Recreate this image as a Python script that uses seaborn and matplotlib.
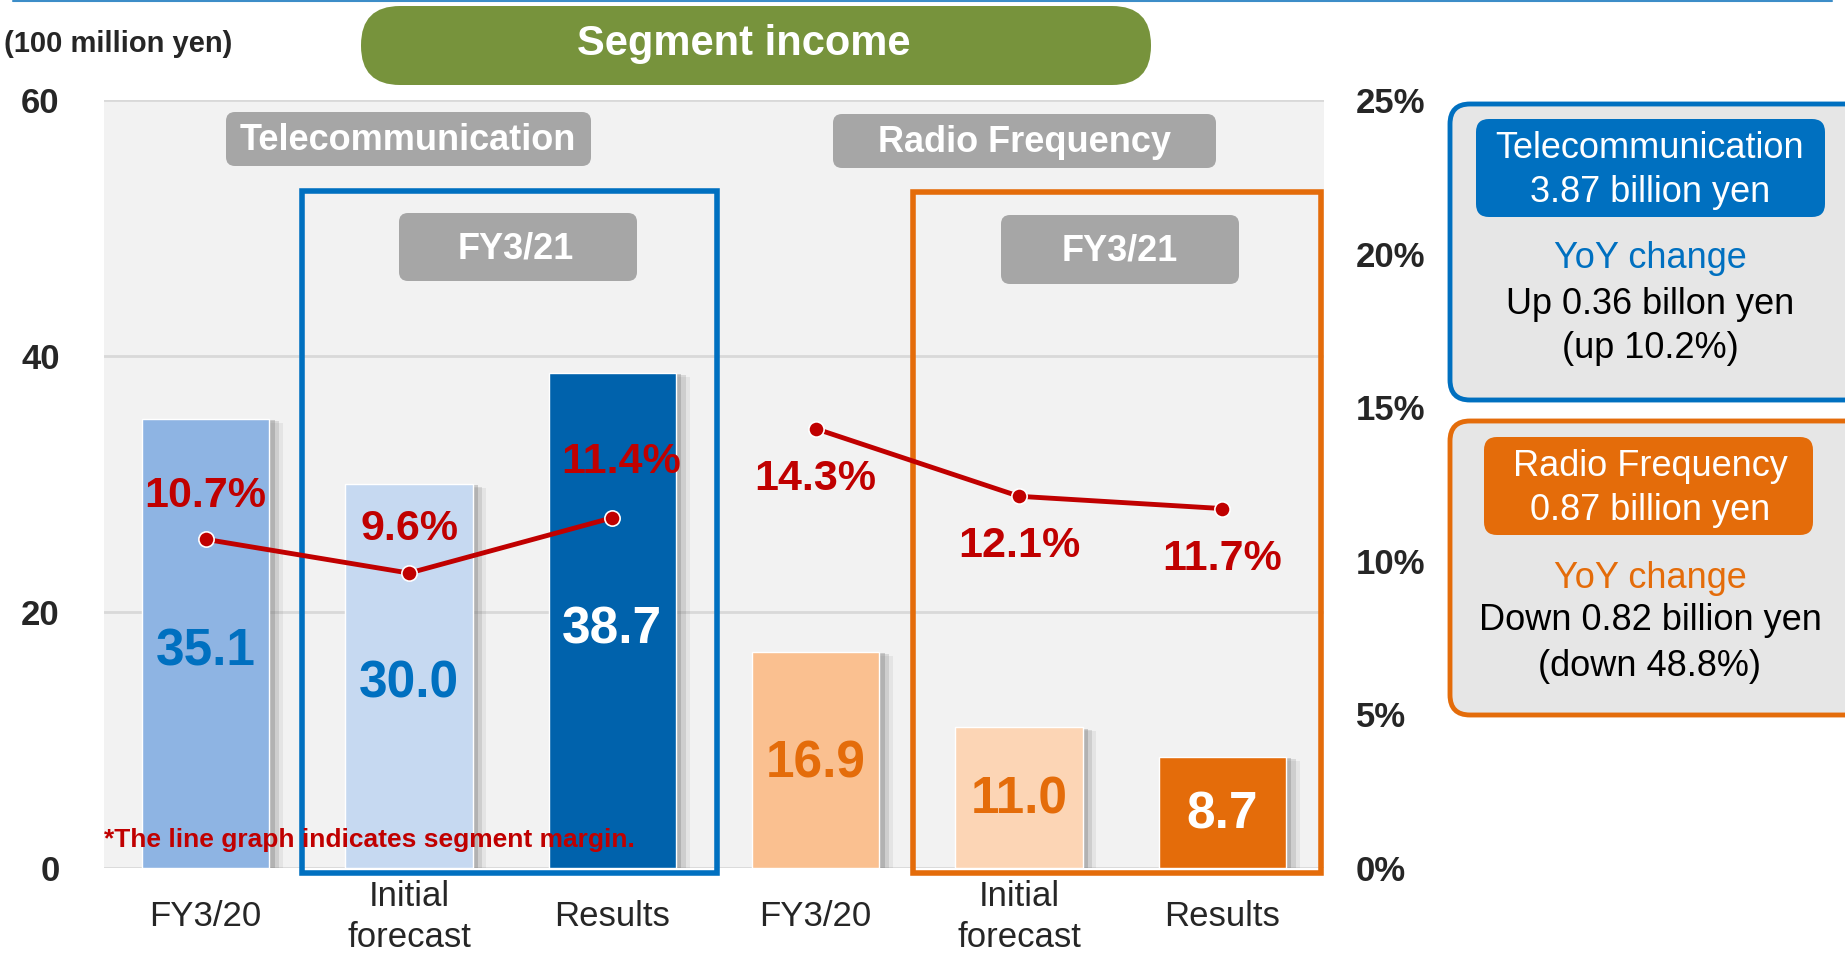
import matplotlib
matplotlib.use("Agg")
import matplotlib.pyplot as plt
import matplotlib.patheffects as pe
import matplotlib.transforms as mtransforms
from matplotlib.patches import FancyBboxPatch, Rectangle
from matplotlib.lines import Line2D
import seaborn as sns

# DATA
bar_keys = ["tel_prev", "tel_fc", "tel_res", "rf_prev", "rf_fc", "rf_res"]
tick_labels = ["FY3/20", "Initial\nforecast", "Results", "FY3/20", "Initial\nforecast", "Results"]
income = [35.1, 30.0, 38.7, 16.9, 11.0, 8.7]          # 100 million yen
margin_tel = [10.7, 9.6, 11.4]                        # %
margin_rf = [14.3, 12.1, 11.7]                        # %
left_ticks = [0, 20, 40, 60]
right_ticks = [0, 5, 10, 15, 20, 25]

bar_colors = ["#8EB4E3", "#C6D9F1", "#0062AC", "#FAC090", "#FCD5B5", "#E46C0A"]
value_colors = ["#0070C0", "#0070C0", "white", "#E46C0A", "#E46C0A", "white"]
BLUE = "#0070C0"
ORANGE = "#E46C0A"
RED = "#C00000"

sns.set_style("white")
plt.rcParams["font.family"] = ["Liberation Sans", "DejaVu Sans"]
NARROW = ["Liberation Sans Narrow", "Liberation Sans", "DejaVu Sans"]

W, H = 1845, 960
fig = plt.figure(figsize=(W / 100, H / 100), dpi=100)
# pixel coords measured from top-left corner
px = mtransforms.Affine2D().scale(1 / W, -1 / H).translate(0, 1) + fig.transFigure

ax = fig.add_axes([104 / W, 92 / H, 1220 / W, 768 / H])
sns.barplot(x=bar_keys, y=income, hue=bar_keys, palette=bar_colors, legend=False,
            width=0.625, saturation=1, dodge=False, ax=ax)
# soft shadow on the right of each bar
for p in ax.patches:
    p.set_path_effects([pe.SimplePatchShadow(offset=(10, -3), shadow_rgbFace="#808080", alpha=0.12),
                        pe.SimplePatchShadow(offset=(7, -2), shadow_rgbFace="#808080", alpha=0.22),
                        pe.SimplePatchShadow(offset=(4, -1), shadow_rgbFace="#808080", alpha=0.35),
                        pe.Normal()])

ax.set_facecolor("#F2F2F2")
ax.set_xlim(-0.5, 5.5)
ax.set_ylim(0, 60)
ax.set_yticks(left_ticks)
ax.set_yticklabels([str(t) for t in left_ticks], fontsize=25, fontweight="bold")
ax.grid(axis="y", color="#D9D9D9", lw=2)
ax.grid(axis="x", visible=False)
ax.set_axisbelow(True)
ax.set_xticks(range(len(tick_labels)))
ax.set_xticklabels(tick_labels, fontsize=25, va="center", linespacing=1.3)
ax.tick_params(axis="x", length=0, pad=35)
ax.tick_params(axis="y", length=0, pad=32)
ax.set(xlabel=None, ylabel=None)
for s in ax.spines.values():
    s.set_visible(False)

# value labels inside bars
for i, v in enumerate(income):
    ax.text(i, v * 0.48, f"{v:.1f}", ha="center", va="center", color=value_colors[i],
            fontsize=37, fontweight="bold", family=NARROW, zorder=6)

# group frames
ax.add_patch(Rectangle((0.474, -0.4), 2.04, 53.3, fill=False, ec=BLUE, lw=4,
                       clip_on=False, zorder=4))
ax.add_patch(Rectangle((3.48, -0.4), 2.006, 53.2, fill=False, ec=ORANGE, lw=4,
                       clip_on=False, zorder=4))

# margin line on right axis
ax2 = ax.twinx()
ax2.set_ylim(0, 25)
sns.lineplot(x=[0, 1, 2], y=margin_tel, ax=ax2, color=RED, lw=3.5, marker="o",
             markersize=11, markeredgecolor="white", markeredgewidth=1.2)
sns.lineplot(x=[3, 4, 5], y=margin_rf, ax=ax2, color=RED, lw=3.5, marker="o",
             markersize=11, markeredgecolor="white", markeredgewidth=1.2)
ax2.set_xlim(-0.5, 5.5)
ax2.set_yticks(right_ticks)
ax2.set_yticklabels([f"{t}%" for t in right_ticks], fontsize=25, fontweight="bold")
ax2.tick_params(axis="y", length=0, pad=23)
ax2.set(xlabel=None, ylabel=None)
ax2.grid(False)
for s in ax2.spines.values():
    s.set_visible(False)

tel_offsets = [(0, 31), (0, 32), (6, 40)]
for i, m in enumerate(margin_tel):
    ax2.annotate(f"{m}%", (i, m), xytext=tel_offsets[i], textcoords="offset points",
                 ha="center", va="center", color=RED, fontsize=31, fontweight="bold",
                 family=NARROW, zorder=7)
for i, m in enumerate(margin_rf):
    ax2.annotate(f"{m}%", (i + 3, m), xytext=(0, -36), textcoords="offset points",
                 ha="center", va="center", color=RED, fontsize=31, fontweight="bold",
                 family=NARROW, zorder=7)


def rbox(x0, y0, x1, y1, r, fc, ec="none", lw=0, z=2):
    fig.add_artist(FancyBboxPatch((x0, y0), x1 - x0, y1 - y0,
                                  boxstyle=f"round,pad=0,rounding_size={r}",
                                  fc=fc, ec=ec, lw=lw, transform=px, zorder=z))


def ptext(x, y, s, **kw):
    fig.text(x, y, s, transform=px, ha=kw.pop("ha", "center"), va="center", zorder=5, **kw)


# top rule
fig.add_artist(Line2D([13, 1832], [1, 1], color="#3C8DC8", lw=1.5, transform=px))

# title
rbox(361, 6, 1151, 85, 39, "#77933C")
ptext(744, 44, "Segment income", color="white", fontsize=30, fontweight="bold")
ptext(4, 44, "(100 million yen)", ha="left", fontsize=21, fontweight="bold", family=NARROW)

# segment headers
rbox(226, 112, 591, 166, 9, "#A6A6A6")
ptext(408, 141, "Telecommunication", color="white", fontsize=26, fontweight="bold")
rbox(833, 114, 1216, 168, 9, "#A6A6A6")
ptext(1024, 143, "Radio Frequency", color="white", fontsize=26, fontweight="bold")
rbox(399, 213, 637, 281, 9, "#A6A6A6")
ptext(516, 249, "FY3/21", color="white", fontsize=26, fontweight="bold")
rbox(1001, 215, 1239, 284, 9, "#A6A6A6")
ptext(1120, 251, "FY3/21", color="white", fontsize=26, fontweight="bold")

# footnote
ptext(104, 840, "*The line graph indicates segment margin.", ha="left", color=RED,
      fontsize=19, fontweight="bold", family=NARROW)

# right side summary boxes
rbox(1450, 104, 1875, 400, 20, "#E6E6E6", ec=BLUE, lw=3.5)
rbox(1476, 119, 1825, 217, 13, BLUE)
ptext(1650, 148, "Telecommunication", color="white", fontsize=26)
ptext(1650, 192, "3.87 billion yen", color="white", fontsize=26)
ptext(1650, 259, "YoY change", color=BLUE, fontsize=26)
ptext(1650, 305, "Up 0.36 billon yen", color="black", fontsize=26)
ptext(1650, 349, "(up 10.2%)", color="black", fontsize=26)

rbox(1450, 421, 1875, 715, 20, "#E6E6E6", ec=ORANGE, lw=3.5)
rbox(1484, 437, 1813, 535, 13, ORANGE)
ptext(1650, 467, "Radio Frequency", color="white", fontsize=26)
ptext(1650, 511, "0.87 billion yen", color="white", fontsize=26)
ptext(1650, 578, "YoY change", color=ORANGE, fontsize=26)
ptext(1650, 621, "Down 0.82 billion yen", color="black", fontsize=26)
ptext(1650, 666, "(down 48.8%)", color="black", fontsize=26)

fig.savefig("out.png", dpi=100)
